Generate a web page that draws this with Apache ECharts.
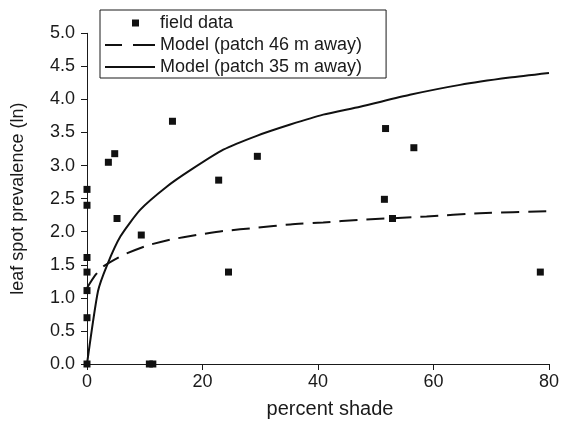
<!DOCTYPE html>
<html>
<head>
<meta charset="utf-8">
<script src="https://cdn.jsdelivr.net/npm/echarts@6/dist/echarts.min.js"></script>
<style>
html,body{margin:0;padding:0;background:#fff;}
#chart{width:562px;height:424px;}
</style>
</head>
<body>
<div id="chart"></div>
<script>
// Field data (percent shade, ln leaf spot prevalence)
const fieldX = [0, 0, 3.7, 4.8, 14.8, 22.8, 29.5, 51.7, 56.6, 51.5, 5.2, 9.4, 0, 0, 0, 0, 0, 10.8, 11.4, 24.5, 52.9, 78.5];
const fieldY = [2.64, 2.40, 3.05, 3.18, 3.67, 2.78, 3.14, 3.56, 3.27, 2.49, 2.20, 1.95, 1.61, 1.39, 1.11, 0.70, 0, 0, 0, 1.39, 2.20, 1.39];

// Model (patch 46 m away) - dashed
const model46X = [0, 1.4, 2.9, 6.3, 10.4, 14.4, 19, 23.6, 29.4, 35.2, 40.9, 47.3, 58.8, 68, 80];
const model46Y = [1.15, 1.34, 1.48, 1.65, 1.79, 1.88, 1.95, 2.01, 2.06, 2.11, 2.14, 2.18, 2.23, 2.28, 2.31];

// Model (patch 35 m away) - solid
const model35X = [0, 1.9, 3.5, 5.8, 9.2, 13.8, 17.9, 23.6, 29.4, 35.2, 40.9, 47.3, 55.9, 64.6, 73.2, 80];
const model35Y = [0, 1.10, 1.50, 1.93, 2.33, 2.68, 2.93, 3.24, 3.45, 3.62, 3.77, 3.89, 4.07, 4.22, 4.33, 4.40];

const seriesNames = ['field data', 'Model (patch 46 m away)', 'Model (patch 35 m away)'];
const xTicks = [0, 20, 40, 60, 80];
const yTicks = [0, 0.5, 1, 1.5, 2, 2.5, 3, 3.5, 4, 4.5, 5];

const zip = (xs, ys) => xs.map((x, i) => [x, ys[i]]);
const ink = '#1a1a1a';
const font = 'Liberation Sans, Arial, sans-serif';

const chart = echarts.init(document.getElementById('chart'), null, {renderer: 'canvas'});
chart.setOption({
  animation: false,
  backgroundColor: '#fff',
  textStyle: {fontFamily: font, color: ink},
  grid: {left: 87, right: 13, top: 33.3, bottom: 59.3, containLabel: false},
  legend: {
    left: 100, top: 10,
    orient: 'vertical',
    itemWidth: 50, itemHeight: 14, itemGap: 4,
    padding: [4, 24, 2, 5],
    borderColor: ink, borderWidth: 1,
    backgroundColor: '#fff',
    textStyle: {fontSize: 18, color: ink, fontFamily: font},
    data: [
      {name: seriesNames[0], icon: 'path://M0,0M50,14M27,3.5h7v7h-7z', itemStyle: {color: '#111', opacity: 1}},
      {name: seriesNames[1], icon: 'path://M0,0M50,14M0,6h17v2h-17zM28,6h22v2h-22z', itemStyle: {color: '#111', opacity: 1}},
      {name: seriesNames[2], icon: 'path://M0,0M50,14M0,6h50v2h-50z', itemStyle: {color: '#111', opacity: 1}}
    ]
  },
  xAxis: {
    type: 'value', min: xTicks[0], max: xTicks[xTicks.length - 1], interval: 20,
    name: 'percent shade', nameLocation: 'middle', nameGap: 35,
    nameTextStyle: {fontSize: 20, color: ink, fontFamily: font, padding: [0, 0, 0, 24]},
    axisLine: {lineStyle: {color: ink, width: 1}},
    axisTick: {show: true, length: 6, lineStyle: {color: ink}},
    axisLabel: {fontSize: 18, color: ink, margin: 9, fontFamily: font},
    splitLine: {show: false}
  },
  yAxis: {
    type: 'value', min: yTicks[0], max: yTicks[yTicks.length - 1], interval: 0.5,
    name: 'leaf spot prevalence (ln)', nameLocation: 'middle', nameGap: 60,
    nameTextStyle: {fontSize: 18, color: ink, fontFamily: font},
    axisLine: {show: true, lineStyle: {color: ink, width: 1}},
    axisTick: {show: true, length: 6, lineStyle: {color: ink}},
    axisLabel: {fontSize: 18, color: ink, margin: 12, fontFamily: font, formatter: v => v.toFixed(1)},
    splitLine: {show: false}
  },
  series: [
    {
      name: seriesNames[0], type: 'scatter', symbol: 'rect', symbolSize: 7,
      itemStyle: {color: '#111', opacity: 1}, clip: false, z: 5,
      data: zip(fieldX, fieldY)
    },
    {
      name: seriesNames[1], type: 'line', symbol: 'none', showSymbol: false,
      smooth: 0.2,
      lineStyle: {color: '#111', width: 2, type: [18, 9]},
      itemStyle: {color: '#111'},
      data: zip(model46X, model46Y)
    },
    {
      name: seriesNames[2], type: 'line', symbol: 'none', showSymbol: false,
      smooth: 0.2,
      lineStyle: {color: '#111', width: 2},
      itemStyle: {color: '#111'},
      data: zip(model35X, model35Y)
    }
  ]
});
</script>
</body>
</html>
